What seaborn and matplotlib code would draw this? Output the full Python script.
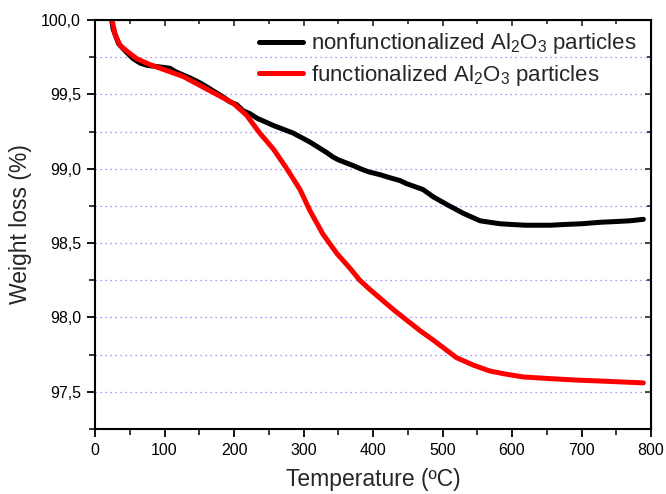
import numpy as np
import pandas as pd
import matplotlib
matplotlib.use("Agg")
import matplotlib.pyplot as plt
import seaborn as sns
from matplotlib.ticker import MultipleLocator, FuncFormatter

# Data
temp_nonfunc = [24, 26, 30, 34, 40, 46, 55, 65, 75, 84, 92, 101, 108, 117, 127, 137, 150, 161, 173, 185,
                194, 204, 213, 223, 233, 245, 257, 271, 285, 297, 309, 321, 333, 342, 350, 361, 372, 382,
                393, 410, 424, 439, 448, 460, 472, 487, 506, 518, 530, 542, 554, 568, 583, 600, 620, 640,
                655, 675, 700, 727, 750, 770, 789]
weight_nonfunc = [100.0, 99.94, 99.89, 99.84, 99.81, 99.78, 99.74, 99.71, 99.695, 99.69, 99.685, 99.68,
                  99.675, 99.65, 99.63, 99.61, 99.58, 99.55, 99.515, 99.48, 99.45, 99.43, 99.39, 99.37,
                  99.34, 99.315, 99.29, 99.265, 99.24, 99.21, 99.18, 99.145, 99.11, 99.08, 99.06, 99.04,
                  99.02, 99.0, 98.98, 98.96, 98.94, 98.92, 98.90, 98.88, 98.86, 98.81, 98.76, 98.73,
                  98.70, 98.675, 98.65, 98.64, 98.63, 98.625, 98.62, 98.62, 98.62, 98.625, 98.63, 98.64,
                  98.645, 98.65, 98.66]

temp_func = [24, 25, 29, 36, 46, 60, 79, 103, 127, 151, 175, 199, 218, 237, 257, 276, 295, 309, 328, 348,
             367, 381, 395, 410, 430, 449, 468, 486, 503, 520, 544, 568, 590, 616, 650, 688, 740, 789]
weight_func = [100.0, 99.99, 99.90, 99.83, 99.79, 99.74, 99.70, 99.66, 99.62, 99.56, 99.50, 99.44, 99.36,
               99.24, 99.13, 99.00, 98.86, 98.72, 98.56, 98.43, 98.33, 98.25, 98.19, 98.13, 98.05, 97.98,
               97.91, 97.85, 97.79, 97.73, 97.68, 97.64, 97.62, 97.60, 97.59, 97.58, 97.57, 97.56]

label_nonfunc = r"nonfunctionalized Al$_2$O$_3$ particles"
label_func = r"functionalized Al$_2$O$_3$ particles"

df = pd.concat([
    pd.DataFrame({"Temperature": temp_nonfunc, "Weight": weight_nonfunc, "Sample": label_nonfunc}),
    pd.DataFrame({"Temperature": temp_func, "Weight": weight_func, "Sample": label_func}),
])

sns.set_style("ticks")
plt.rcParams["font.family"] = ["Liberation Sans", "DejaVu Sans"]
plt.rcParams["mathtext.fontset"] = "custom"
plt.rcParams["mathtext.rm"] = "Liberation Sans"
plt.rcParams["mathtext.it"] = "Liberation Sans"

fig = plt.figure(figsize=(6.66, 4.94), dpi=100)
ax = fig.add_axes([95 / 666, 1 - 429 / 494, (651 - 95) / 666, (429 - 20) / 494])

sns.lineplot(data=df, x="Temperature", y="Weight", hue="Sample",
             palette={label_nonfunc: "black", label_func: "#ff0000"},
             linewidth=3.6, ax=ax, sort=False, estimator=None)
for ln in ax.get_lines():
    ln.set_solid_joinstyle("round")
    ln.set_solid_capstyle("round")

ax.set_xlim(0, 800)
ax.set_ylim(97.25, 100.0)

for yv in [97.5, 97.75, 98.0, 98.25, 98.5, 98.75, 99.0, 99.25, 99.5, 99.75]:
    ax.axhline(yv, color="#5a5aff", linestyle=(0, (1, 3)), linewidth=0.9, alpha=0.8, zorder=0)

ax.xaxis.set_major_locator(MultipleLocator(100))
ax.xaxis.set_minor_locator(MultipleLocator(50))
ax.yaxis.set_major_locator(MultipleLocator(0.5))
ax.yaxis.set_minor_locator(MultipleLocator(0.25))
ax.yaxis.set_major_formatter(FuncFormatter(lambda v, p: f"{v:.1f}".replace(".", ",")))

ax.tick_params(axis="both", which="major", direction="out", length=6, width=1.3,
               labelsize=11.5, colors="black", pad=4)
ax.tick_params(axis="both", which="minor", direction="out", length=4, width=1.3)

sec_top = ax.secondary_xaxis("top")
sec_top.xaxis.set_major_locator(MultipleLocator(100))
sec_top.xaxis.set_minor_locator(MultipleLocator(50))
sec_top.tick_params(which="major", direction="in", length=4, width=1.2, labeltop=False)
sec_top.tick_params(which="minor", direction="in", length=3, width=1.2)
sec_top.set_xticklabels([])
sec_right = ax.secondary_yaxis("right")
sec_right.yaxis.set_major_locator(MultipleLocator(0.5))
sec_right.yaxis.set_minor_locator(MultipleLocator(0.25))
sec_right.tick_params(which="major", direction="in", length=4, width=1.2, labelright=False)
sec_right.tick_params(which="minor", direction="in", length=3, width=1.2)
sec_right.set_yticklabels([])

for s in ax.spines.values():
    s.set_linewidth(1.5)
    s.set_color("black")

ax.set_xlabel("Temperature (ºC)", fontsize=16.5, labelpad=7)
ax.set_ylabel("Weight loss (%)", fontsize=16.5, labelpad=7)

leg = ax.legend(loc="upper right", bbox_to_anchor=(1.003, 1.01), frameon=False, fontsize=16,
                handlelength=2.0, handletextpad=0.36, labelspacing=0.3, borderaxespad=0.3)
for line in leg.get_lines():
    line.set_linewidth(3.6)

fig.savefig("out.png", dpi=100)
